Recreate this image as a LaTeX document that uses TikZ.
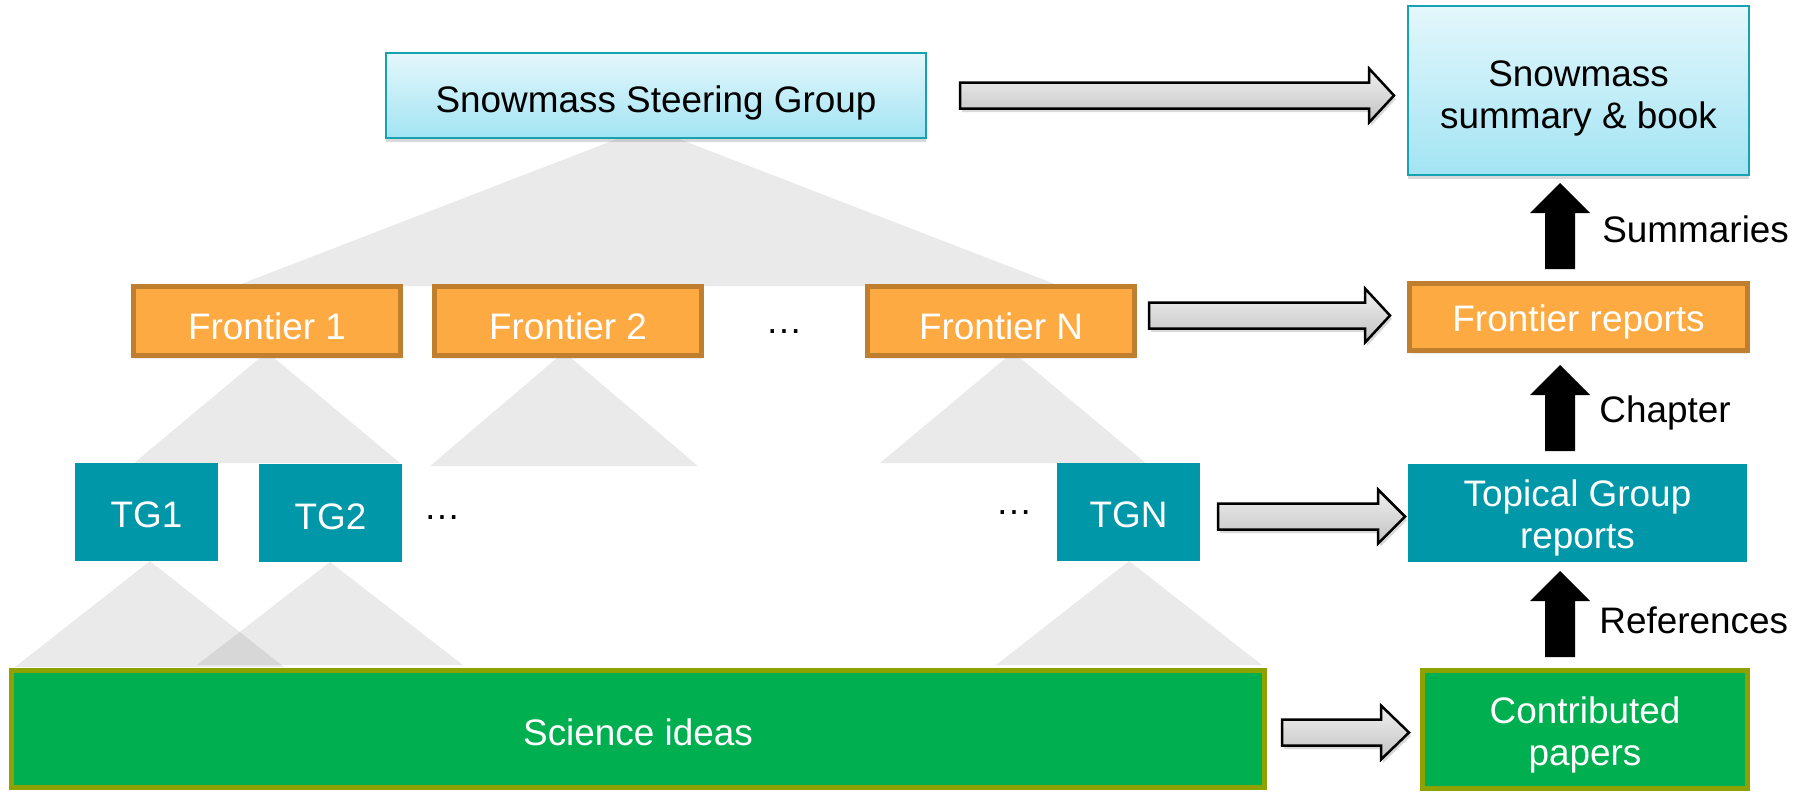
\documentclass[tikz,border=0pt]{standalone}
\usepackage{fontspec}
\setmainfont{Liberation Sans}
\usetikzlibrary{shadows}
\definecolor{lbtop}{HTML}{E4F7FC}
\definecolor{lbbot}{HTML}{A2E4F3}
\definecolor{lbdraw}{HTML}{17A2B2}
\definecolor{orfill}{HTML}{FEAA43}
\definecolor{ordraw}{HTML}{BF7F2F}
\definecolor{tealc}{HTML}{0097A8}
\definecolor{greenc}{HTML}{00AF50}
\definecolor{greend}{HTML}{8DA200}
\definecolor{arrtop}{HTML}{F0F0F0}
\definecolor{arrbot}{HTML}{C2C2C2}
\newdimen\px \px=0.02cm
\newcommand\up[1][1.0em]{\rule{0pt}{#1}}
\newcommand\grayarrow[4]{%
  \draw[grayarr] (#1,#4-13) -- (#2,#4-13) -- (#2,#4-27) -- (#3,#4)
    -- (#2,#4+27) -- (#2,#4+13) -- (#1,#4+13) -- cycle;}
\newcommand\blackarrow[3]{%
  \fill[black] (1545,#3) -- (1545,#2) -- (1530,#2) -- (1560,#1)
    -- (1590,#2) -- (1575,#2) -- (1575,#3) -- cycle;}
\begin{document}
\begin{tikzpicture}[x=0.02cm,y=-0.02cm,
  font=\fontsize{21}{24}\selectfont,
  tri/.style={fill=black,fill opacity=0.082,draw=none},
  boxbase/.style={rectangle,inner sep=0pt,align=center},
  bluebox/.style={boxbase,draw=lbdraw,line width=2\px,top color=lbtop,bottom color=lbbot,
    drop shadow={opacity=0.3,shadow xshift=0cm,shadow yshift=-0.08cm}},
  orbox/.style={boxbase,fill=orfill,draw=ordraw,line width=5\px,text=white,
    drop shadow={opacity=0.15,shadow xshift=0cm,shadow yshift=-0.06cm}},
  tealbox/.style={boxbase,fill=tealc,text=white},
  greenbox/.style={boxbase,fill=greenc,draw=greend,line width=5\px,text=white},
  grayarr/.style={draw=black,line width=2.5\px,top color=arrtop,bottom color=arrbot,
    drop shadow={opacity=0.3,shadow xshift=0.04cm,shadow yshift=-0.07cm}},
  lab/.style={anchor=west,inner sep=0pt}]
\useasboundingbox (0,0) rectangle (1808,792);
% background triangles
\path[tri] (648,127) -- (236,286) -- (1060,286) -- cycle;
\path[tri] (267,352) -- (134,463) -- (400,463) -- cycle;
\path[tri] (564,352) -- (430,466) -- (698,466) -- cycle;
\path[tri] (1013,352) -- (880,463) -- (1146,463) -- cycle;
\path[tri] (150,561) -- (15,667) -- (284,667) -- cycle;
\path[tri] (330,562) -- (197,665) -- (463,665) -- cycle;
\path[tri] (1129,561) -- (996,665) -- (1262,665) -- cycle;
% boxes
\node[bluebox,minimum width=540\px,minimum height=85\px] (steer) at (656,95.5) {\up[1.15em]Snowmass Steering Group};
\node[bluebox,minimum width=341\px,minimum height=169\px] (summ) at (1578.5,90.5) {\up[1.12em]Snowmass\\summary \& book};
\node[orbox,minimum width=267\px,minimum height=69\px] (f1) at (267,321) {\up Frontier 1};
\node[orbox,minimum width=267\px,minimum height=69\px] (f2) at (568,321) {\up Frontier 2};
\node[orbox,minimum width=267\px,minimum height=69\px] (fN) at (1001,321) {\up Frontier N};
\node[orbox,minimum width=338\px,minimum height=67\px] (frep) at (1578.5,317) {\up Frontier reports};
\node[tealbox,minimum width=143\px,minimum height=98\px] (tg1) at (146.5,512) {\up[0.85em]TG1};
\node[tealbox,minimum width=143\px,minimum height=98\px] (tg2) at (330.5,513) {\up[0.9em]TG2};
\node[tealbox,minimum width=143\px,minimum height=98\px] (tgN) at (1128.5,512) {\up[0.85em]TGN};
\node[tealbox,minimum width=339\px,minimum height=98\px] (tgrep) at (1577.5,513) {\up Topical Group\\reports};
\node[greenbox,minimum width=1253\px,minimum height=117\px] (sci) at (638,729) {\up[0.9em]Science ideas};
\node[greenbox,minimum width=325\px,minimum height=118\px] (cp) at (1585,729.5) {\up Contributed\\papers};
% ellipses
\node[inner sep=0pt] (d1) at (784,332) {…};
\node[inner sep=0pt] (d2) at (442,518) {…};
\node[inner sep=0pt] (d3) at (1014,513) {…};
% gray block arrows
\grayarrow{960}{1369}{1394}{95.5}
\grayarrow{1149}{1365}{1390}{315.5}
\grayarrow{1218}{1378}{1405}{516.5}
\grayarrow{1282}{1381}{1409}{732.5}
% black up arrows
\blackarrow{183}{213}{269}
\blackarrow{365}{395}{451}
\blackarrow{571}{601}{657}
% labels
\node[lab] (lsum) at (1602,229) {Summaries};
\node[lab] (lch) at (1599,413) {Chapter};
\node[lab] (lref) at (1599,620) {References};
\end{tikzpicture}
\end{document}
